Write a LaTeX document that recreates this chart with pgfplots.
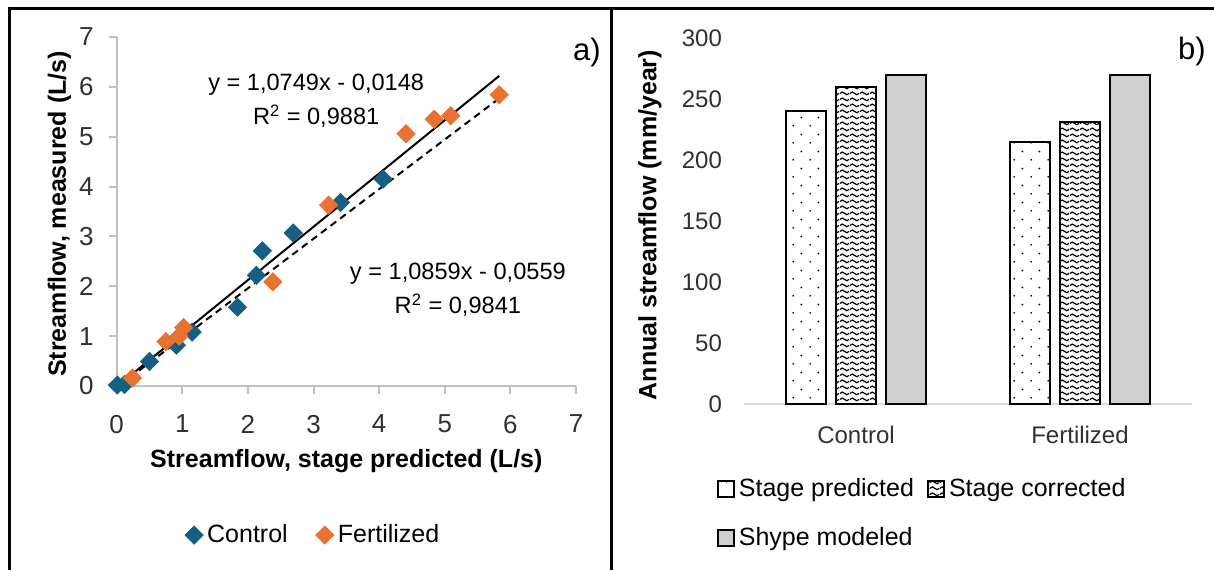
\documentclass[border=0pt]{standalone}
\usepackage{fontspec}
\setmainfont{Liberation Sans}
\usepackage{pgfplots}
\pgfplotsset{compat=1.18}
\usetikzlibrary{patterns.meta}

\definecolor{ctrl}{HTML}{156082}
\definecolor{fert}{HTML}{E97132}
\definecolor{axgray}{HTML}{BFBFBF}
\definecolor{basegray}{HTML}{D9D9D9}
\definecolor{bargray}{HTML}{D0D0D0}
\definecolor{ticktext}{HTML}{303030}

% sparse staggered dots for "Stage predicted"
\tikzdeclarepattern{
  name=sparsedots, type=uncolored,
  bottom left={(0pt,0pt)}, top right={(8.4pt,8.4pt)},
  tile size={(8.4pt,8.4pt)},
  code={\fill (2.1pt,2.1pt) circle (0.5pt); \fill (6.3pt,6.3pt) circle (0.5pt);}
}
% wavy lines for "Stage corrected"
\tikzdeclarepattern{
  name=waves, type=uncolored,
  bottom left={(0pt,0pt)}, top right={(5pt,2.8pt)},
  tile size={(5pt,2.8pt)},
  code={\draw[line width=0.65pt] (0pt,1.4pt) sin (1.25pt,2.1pt) cos (2.5pt,1.4pt) sin (3.75pt,0.7pt) cos (5pt,1.4pt);}
}

\newcommand{\tickfont}{\fontsize{13}{15}\selectfont}
\newcommand{\tickfontb}{\fontsize{12}{14}\selectfont}
\newcommand{\titlefont}{\fontsize{12.5}{14}\selectfont\bfseries}
\newcommand{\legfont}{\fontsize{12.5}{14}\selectfont}

\pgfplotsset{
  ybar legend/.style={legend image code/.code={\draw[##1,line width=1pt] (0pt,-4pt) rectangle (8pt,4pt);}},
  /pgf/number format/assume math mode=true,
  tick label style={text=ticktext},
}

% scatter data (x = stage predicted, y = measured), L/s
\pgfplotstableread{
x y
0.01 0.02
0.12 0.03
0.50 0.49
0.91 0.82
1.15 1.08
1.84 1.58
2.13 2.22
2.22 2.71
2.69 3.07
3.41 3.68
4.06 4.15
}\ctrldata
\pgfplotstableread{
x y
0.24 0.16
0.75 0.89
0.95 1.00
1.02 1.17
2.38 2.09
3.23 3.63
4.41 5.06
4.84 5.35
5.09 5.42
5.83 5.84
}\fertdata

\begin{document}
\begin{tikzpicture}
\useasboundingbox (0,0) rectangle (607pt,285pt);

% panel frame
\draw[line width=1.5pt] (4pt,280.75pt) -- (607pt,280.75pt);
\draw[line width=1.5pt] (4.75pt,0pt) -- (4.75pt,281.5pt);
\draw[line width=1.5pt] (305.85pt,0pt) -- (305.85pt,281.5pt);

% ---- a) scatter ----
\begin{axis}[
  at={(58.35pt,92pt)}, anchor=south west,
  width=229.65pt, height=174.5pt, scale only axis,
  xmin=0, xmax=7, ymin=0, ymax=7,
  xtick={0,...,7}, ytick={0,...,7},
  axis lines=left,
  axis line style={axgray, line width=1pt, -},
  tick style={axgray, line width=1pt},
  tick align=outside, major tick length=4pt,
  tick label style={font=\tickfont},
  xticklabel style={yshift=-7pt},
  yticklabel style={xshift=-4pt},
  xlabel={Streamflow, stage predicted (L/s)},
  ylabel={Streamflow, measured (L/s)},
  label style={font=\titlefont},
  xlabel style={at={(axis description cs:0.5,-0.215)}, anchor=center},
  ylabel style={at={(axis description cs:-0.1245,0.493)}, anchor=center},
  clip=false,
  legend columns=2,
  legend style={draw=none, fill=none, font=\legfont,
    at={(axis description cs:0.43,-0.427)}, anchor=center,
    /tikz/every even column/.append style={column sep=12pt}},
]
\addplot[only marks, mark=square*, mark size=3.2pt, color=ctrl,
  mark options={rotate=45}] table {\ctrldata};
\addplot[only marks, mark=square*, mark size=3.2pt, color=fert,
  mark options={rotate=45}] table {\fertdata};
\addplot[forget plot, black, line width=1pt] coordinates {(0.05,0.04) (5.83,6.22)};
\addplot[forget plot, black, line width=1pt, dash pattern=on 3.5pt off 2.5pt]
  coordinates {(0.05,0.02) (5.83,5.77)};
\legend{Control, Fertilized}
\node[font=\fontsize{11.8}{13}\selectfont] at (axis cs:3.04,6.05) {y = 1,0749x - 0,0148};
\node[font=\fontsize{11.8}{13}\selectfont] at (axis cs:3.04,5.41) {R\textsuperscript{2} = 0,9881};
\node[font=\fontsize{11.8}{13}\selectfont] at (axis cs:5.20,2.26) {y = 1,0859x - 0,0559};
\node[font=\fontsize{11.8}{13}\selectfont] at (axis cs:5.20,1.62) {R\textsuperscript{2} = 0,9841};
\end{axis}

% ---- b) bars ----
\begin{axis}[
  at={(372pt,83pt)}, anchor=south west,
  width=224pt, height=183pt, scale only axis,
  ybar=5pt, bar width=20pt,
  xmin=-0.5, xmax=1.5, ymin=0, ymax=300,
  xtick={0,1}, xticklabels={Control,Fertilized},
  ytick={0,50,...,300},
  axis x line*=bottom, axis y line*=left,
  x axis line style={basegray, line width=1pt, -},
  y axis line style={draw=none},
  major tick length=0pt,
  tick label style={font=\tickfontb},
  xticklabel style={yshift=-7.5pt},
  yticklabel style={xshift=-7.5pt},
  ylabel={Annual streamflow (mm/year)},
  label style={font=\titlefont},
  ylabel style={at={(axis description cs:-0.21,0.489)}, anchor=center},
  clip=false,
  legend columns=2,
  legend cell align=left,
  legend style={draw=none, fill=none, font=\legfont,
    at={(axis description cs:0.40,-0.30)}, anchor=center,
    /tikz/every even column/.append style={column sep=4.5pt},
    row sep=10pt},
]
\addplot[draw=black, line width=1pt, preaction={fill=white}, pattern=sparsedots]
  coordinates {(0,240) (1,215)};
\addplot[draw=black, line width=1pt, preaction={fill=white}, pattern=waves]
  coordinates {(0,260) (1,231)};
\addplot[draw=black, line width=1pt, fill=bargray]
  coordinates {(0,270) (1,270)};
\legend{Stage predicted, Stage corrected, Shype modeled}
\end{axis}

\node[font=\fontsize{15.5}{17}\selectfont] at (293.5pt,259pt) {a)};
\node[font=\fontsize{15.5}{17}\selectfont] at (596pt,259.5pt) {b)};
\end{tikzpicture}
\end{document}
